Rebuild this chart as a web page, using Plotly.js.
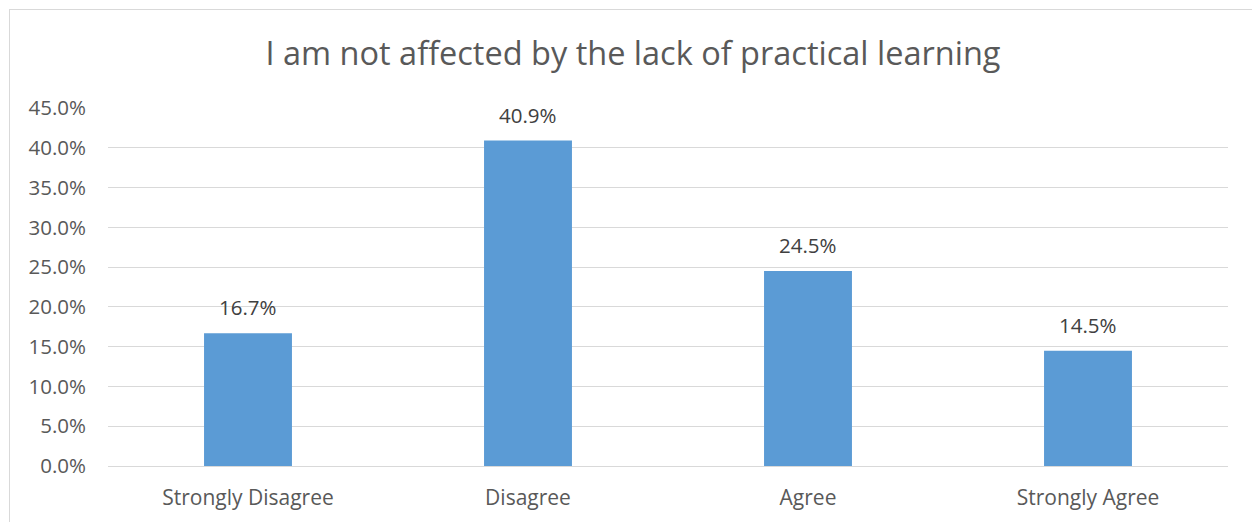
<!DOCTYPE html>
<html>
<head>
<meta charset="utf-8">
<script src="https://cdn.plot.ly/plotly-3.0.1.min.js"></script>
<style>
  html, body { margin: 0; padding: 0; background: #ffffff; overflow: hidden; }
  #wrap { position: relative; width: 1252px; height: 522px; }
  #frame { position: absolute; left: 9px; top: 9px; width: 1270px; height: 540px;
           border: 1px solid #d9d9d9; box-sizing: border-box; pointer-events: none; }
  #chart { position: absolute; left: 0; top: 0; width: 1252px; height: 522px; }
</style>
</head>
<body>
<div id="wrap">
  <div id="chart"></div>
  <div id="frame"></div>
</div>
<script>
// Survey responses
const categories = ["Strongly Disagree", "Disagree", "Agree", "Strongly Agree"];
const shares = [0.167, 0.409, 0.245, 0.145];
const yTicks = [0, 0.05, 0.10, 0.15, 0.20, 0.25, 0.30, 0.35, 0.40, 0.45];

const textColor = "#595959";
const fontFamily = "'Open Sans', 'Noto Sans', sans-serif";

const trace = {
  type: "bar",
  x: categories,
  y: shares,
  marker: { color: "#5b9bd5" },
  width: 0.314,
  hoverinfo: "skip"
};

// value labels above each bar
const labels = categories.map((c, i) => ({
  x: c,
  y: shares[i],
  xref: "x",
  yref: "y",
  text: (shares[i] * 100).toFixed(1) + "%",
  showarrow: false,
  yanchor: "bottom",
  yshift: 10,
  font: { family: fontFamily, size: 20.5, color: "#404040" }
}));

const layout = {
  width: 1252,
  height: 522,
  margin: { l: 108, r: 24, t: 108, b: 56 },
  paper_bgcolor: "rgba(0,0,0,0)",
  plot_bgcolor: "rgba(0,0,0,0)",
  showlegend: false,
  title: {
    text: "I am not affected by the lack of practical learning",
    font: { family: fontFamily, size: 32.5, color: textColor },
    x: 633 / 1252,
    xanchor: "center",
    xref: "container",
    y: 1 - 54 / 522,
    yref: "container",
    yanchor: "middle"
  },
  xaxis: {
    type: "category",
    showgrid: false,
    zeroline: false,
    showline: false,
    ticks: "",
    ticklabelstandoff: 17,
    tickfont: { family: fontFamily, size: 21, color: textColor }
  },
  yaxis: {
    range: [0, 0.45],
    tickvals: yTicks,
    tickformat: ".1%",
    showgrid: true,
    gridcolor: "#d9d9d9",
    gridwidth: 1,
    zeroline: true,
    zerolinecolor: "#d9d9d9",
    zerolinewidth: 1,
    showline: false,
    ticks: "",
    ticklabelstandoff: 21,
    tickfont: { family: fontFamily, size: 20.5, color: textColor }
  },
  annotations: labels,
  bargap: 0.686
};

Plotly.newPlot("chart", [trace], layout, { staticPlot: true, displayModeBar: false });
</script>
</body>
</html>
